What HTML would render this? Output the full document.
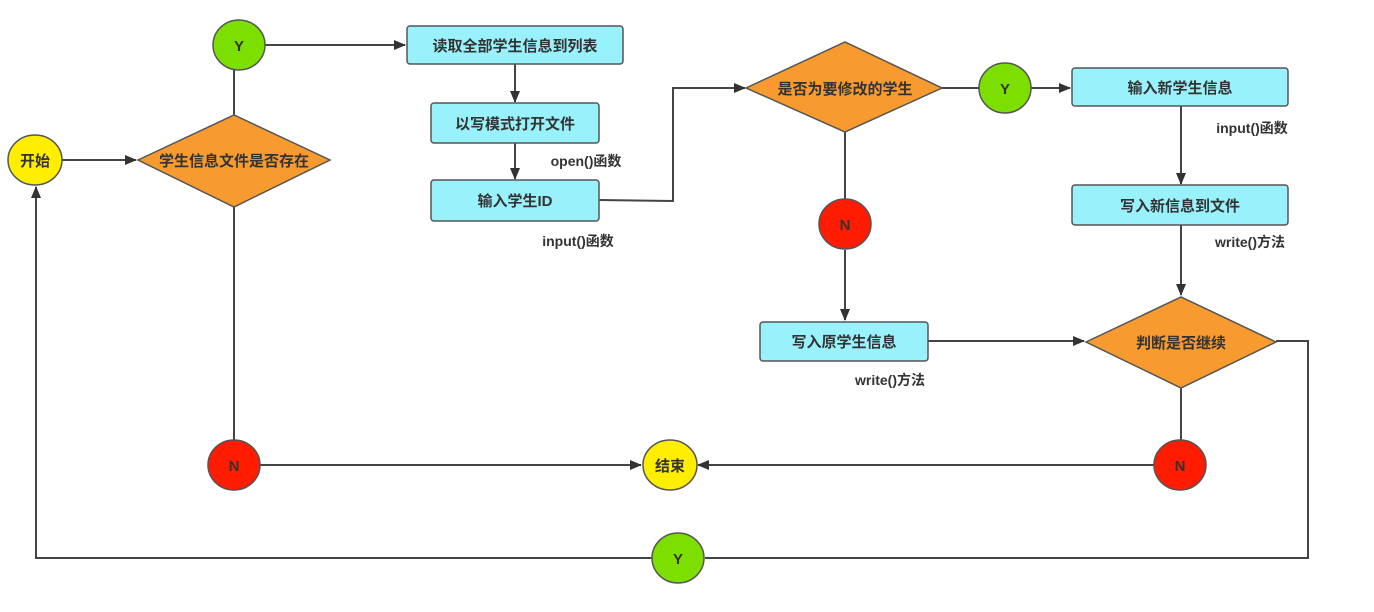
<!DOCTYPE html>
<html><head><meta charset="utf-8"><style>
html,body{margin:0;padding:0;background:#fff;}
svg text{font-family:"Liberation Sans","Noto Sans CJK SC",sans-serif;font-weight:bold;fill:#333;}
</style></head><body>
<svg width="1374" height="607" viewBox="0 0 1374 607" xmlns="http://www.w3.org/2000/svg">
<defs>
<marker id="a" markerWidth="12" markerHeight="10" refX="11" refY="5" orient="auto" markerUnits="userSpaceOnUse">
<path d="M0,0 L12,5 L0,10 Z" fill="#333"/></marker>
</defs>
<g stroke="#444" stroke-width="2" fill="none">
<line x1="234" y1="70" x2="234" y2="115"/>
<line x1="265" y1="45" x2="405" y2="45" marker-end="url(#a)"/>
<line x1="62" y1="160" x2="136" y2="160" marker-end="url(#a)"/>
<line x1="515" y1="64" x2="515" y2="102" marker-end="url(#a)"/>
<line x1="515" y1="143" x2="515" y2="179" marker-end="url(#a)"/>
<polyline points="599,200 673,201 673,88 745,88" marker-end="url(#a)"/>
<line x1="942" y1="88" x2="979" y2="88"/>
<line x1="1031" y1="88" x2="1070" y2="88" marker-end="url(#a)"/>
<line x1="1181" y1="106" x2="1181" y2="184" marker-end="url(#a)"/>
<line x1="1181" y1="225" x2="1181" y2="295" marker-end="url(#a)"/>
<line x1="1181" y1="388" x2="1181" y2="440"/>
<line x1="1154" y1="465" x2="698" y2="465" marker-end="url(#a)"/>
<line x1="845" y1="132" x2="845" y2="199"/>
<line x1="845" y1="250" x2="845" y2="320" marker-end="url(#a)"/>
<line x1="928" y1="341" x2="1084" y2="341" marker-end="url(#a)"/>
<polyline points="1276,341 1308,341 1308,558 705,558"/>
<polyline points="652,558 36,558 36,187" marker-end="url(#a)"/>
<line x1="234" y1="207" x2="234" y2="440"/>
<line x1="260" y1="465" x2="641" y2="465" marker-end="url(#a)"/>
</g>
<g stroke="#555" stroke-width="1.5">
<ellipse cx="35" cy="160" rx="27" ry="25" fill="#ffee00"/>
<polygon points="138,160 234,115 330,160 234,207" fill="#f79a30"/>
<ellipse cx="239" cy="45" rx="26" ry="25" fill="#7ddf00"/>
<rect x="407" y="26" width="216" height="38" rx="3" fill="#99f2fb"/>
<rect x="431" y="103" width="168" height="40" rx="3" fill="#99f2fb"/>
<rect x="431" y="180" width="168" height="41" rx="3" fill="#99f2fb"/>
<polygon points="746,88 845,42 942,88 845,132" fill="#f79a30"/>
<ellipse cx="1005" cy="88" rx="26" ry="25" fill="#7ddf00"/>
<rect x="1072" y="68" width="216" height="38" rx="3" fill="#99f2fb"/>
<rect x="1072" y="185" width="216" height="40" rx="3" fill="#99f2fb"/>
<polygon points="1086,342 1181,297 1276,342 1181,388" fill="#f79a30"/>
<ellipse cx="1180" cy="465" rx="26" ry="25" fill="#ff1c00"/>
<ellipse cx="670" cy="465" rx="27" ry="25" fill="#ffee00"/>
<ellipse cx="845" cy="224" rx="26" ry="25" fill="#ff1c00"/>
<rect x="760" y="322" width="168" height="39" rx="3" fill="#99f2fb"/>
<ellipse cx="678" cy="558" rx="26" ry="25" fill="#7ddf00"/>
<ellipse cx="234" cy="465" rx="26" ry="25" fill="#ff1c00"/>
</g>
<g font-size="15" text-anchor="middle">
<text x="35" y="166">开始</text>
<text x="234" y="166">学生信息文件是否存在</text>
<text x="239" y="51">Y</text>
<text x="515" y="51">读取全部学生信息到列表</text>
<text x="515" y="129">以写模式打开文件</text>
<text x="515" y="206">输入学生ID</text>
<text x="845" y="94">是否为要修改的学生</text>
<text x="1005" y="94">Y</text>
<text x="1180" y="93">输入新学生信息</text>
<text x="1180" y="211">写入新信息到文件</text>
<text x="1181" y="348">判断是否继续</text>
<text x="1180" y="471">N</text>
<text x="670" y="471">结束</text>
<text x="845" y="230">N</text>
<text x="844" y="347">写入原学生信息</text>
<text x="678" y="564">Y</text>
<text x="234" y="471">N</text>
</g>
<g font-size="14" text-anchor="middle">
<text x="586" y="166">open()函数</text>
<text x="578" y="246">input()函数</text>
<text x="1252" y="133">input()函数</text>
<text x="1250" y="247">write()方法</text>
<text x="890" y="385">write()方法</text>
</g>
</svg>
</body></html>
